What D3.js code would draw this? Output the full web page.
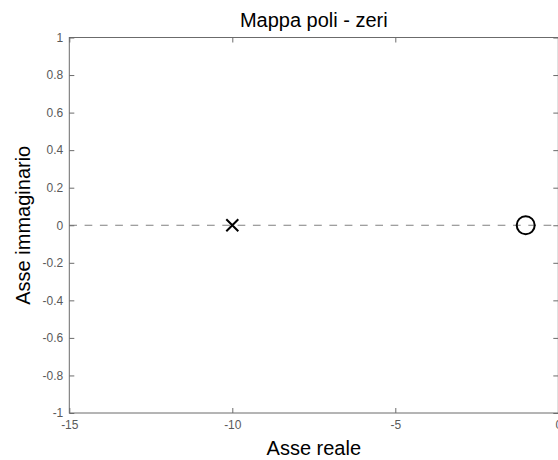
<!DOCTYPE html>
<html>
<head>
<meta charset="utf-8">
<script src="https://cdn.jsdelivr.net/npm/d3@7"></script>
<style>
  html, body { margin: 0; padding: 0; background: #fff; }
  svg { display: block; font-family: "Liberation Sans", Arial, Helvetica, sans-serif; }
</style>
</head>
<body>
<div id="chart"></div>
<script>
// Poles and zeros of the system (real, imaginary)
const poleRe = [-10];
const poleIm = [0];
const zeroRe = [-1];
const zeroIm = [0];

// Axis ticks
const xTicks = [-15, -10, -5, 0];
const yTicks = [-1, -0.8, -0.6, -0.4, -0.2, 0, 0.2, 0.4, 0.6, 0.8, 1];
const xDomain = [-15, 0];
const yDomain = [-1, 1];

const W = 558, H = 460;
const plot = { left: 69.3, right: 558.3, top: 37.5, bottom: 413 };

const svg = d3.select("#chart").append("svg")
  .attr("width", W).attr("height", H);

const x = d3.scaleLinear().domain(xDomain).range([plot.left, plot.right]);
const y = d3.scaleLinear().domain(yDomain).range([plot.bottom, plot.top]);

const axisColor = "#6b6b6b";
const labelColor = "#5a5a5a";
const fmt = d => String(+d.toFixed(1));

// Dashed line along the real axis
svg.append("line")
  .attr("x1", x(xDomain[0])).attr("x2", x(xDomain[1]))
  .attr("y1", y(0)).attr("y2", y(0))
  .attr("stroke", "#808080").attr("stroke-width", 1)
  .attr("stroke-dasharray", "7.7,7.6");

// Frame
svg.append("rect")
  .attr("x", plot.left).attr("y", plot.top)
  .attr("width", plot.right - plot.left).attr("height", plot.bottom - plot.top)
  .attr("fill", "none").attr("stroke", axisColor).attr("stroke-width", 1);

function styleAxis(g, showLabels) {
  g.select(".domain").remove();
  g.selectAll(".tick line").attr("stroke", axisColor);
  g.selectAll(".tick text")
    .attr("fill", labelColor)
    .style("font-size", "12px")
    .style("display", showLabels ? null : "none");
}

// Bottom and top axes
svg.append("g").attr("transform", `translate(0,${plot.bottom})`)
  .call(d3.axisBottom(x).tickValues(xTicks).tickFormat(fmt)
    .tickSize(-5).tickSizeOuter(0).tickPadding(7))
  .call(g => styleAxis(g, true));
svg.append("g").attr("transform", `translate(0,${plot.top})`)
  .call(d3.axisTop(x).tickValues(xTicks).tickSize(-5).tickSizeOuter(0))
  .call(g => styleAxis(g, false));

// Left and right axes
svg.append("g").attr("transform", `translate(${plot.left},0)`)
  .call(d3.axisLeft(y).tickValues(yTicks).tickFormat(fmt)
    .tickSize(-5).tickSizeOuter(0).tickPadding(6))
  .call(g => styleAxis(g, true));
svg.append("g").attr("transform", `translate(${plot.right},0)`)
  .call(d3.axisRight(y).tickValues(yTicks).tickSize(-5).tickSizeOuter(0))
  .call(g => styleAxis(g, false));

// Poles: crosses
const cross = 6;
const poles = poleRe.map((re, i) => ({ re, im: poleIm[i] }));
svg.append("g").selectAll("path").data(poles).join("path")
  .attr("d", d => {
    const cx = x(d.re), cy = y(d.im);
    return `M${cx - cross},${cy - cross}L${cx + cross},${cy + cross}` +
           `M${cx - cross},${cy + cross}L${cx + cross},${cy - cross}`;
  })
  .attr("stroke", "#000").attr("stroke-width", 2).attr("fill", "none");

// Zeros: circles
const zeros = zeroRe.map((re, i) => ({ re, im: zeroIm[i] }));
svg.append("g").selectAll("circle").data(zeros).join("circle")
  .attr("cx", d => x(d.re)).attr("cy", d => y(d.im)).attr("r", 9)
  .attr("stroke", "#000").attr("stroke-width", 2).attr("fill", "none");

// Title and axis labels
svg.append("text")
  .attr("x", (plot.left + plot.right) / 2).attr("y", 27)
  .attr("text-anchor", "middle").style("font-size", "20px").attr("fill", "#000")
  .text("Mappa poli - zeri");
svg.append("text")
  .attr("x", (plot.left + plot.right) / 2).attr("y", 455)
  .attr("text-anchor", "middle").style("font-size", "20px").attr("fill", "#000")
  .text("Asse reale");
svg.append("text")
  .attr("transform", `translate(30,${(plot.top + plot.bottom) / 2}) rotate(-90)`)
  .attr("text-anchor", "middle").style("font-size", "20px").attr("fill", "#000")
  .text("Asse immaginario");
</script>
</body>
</html>
